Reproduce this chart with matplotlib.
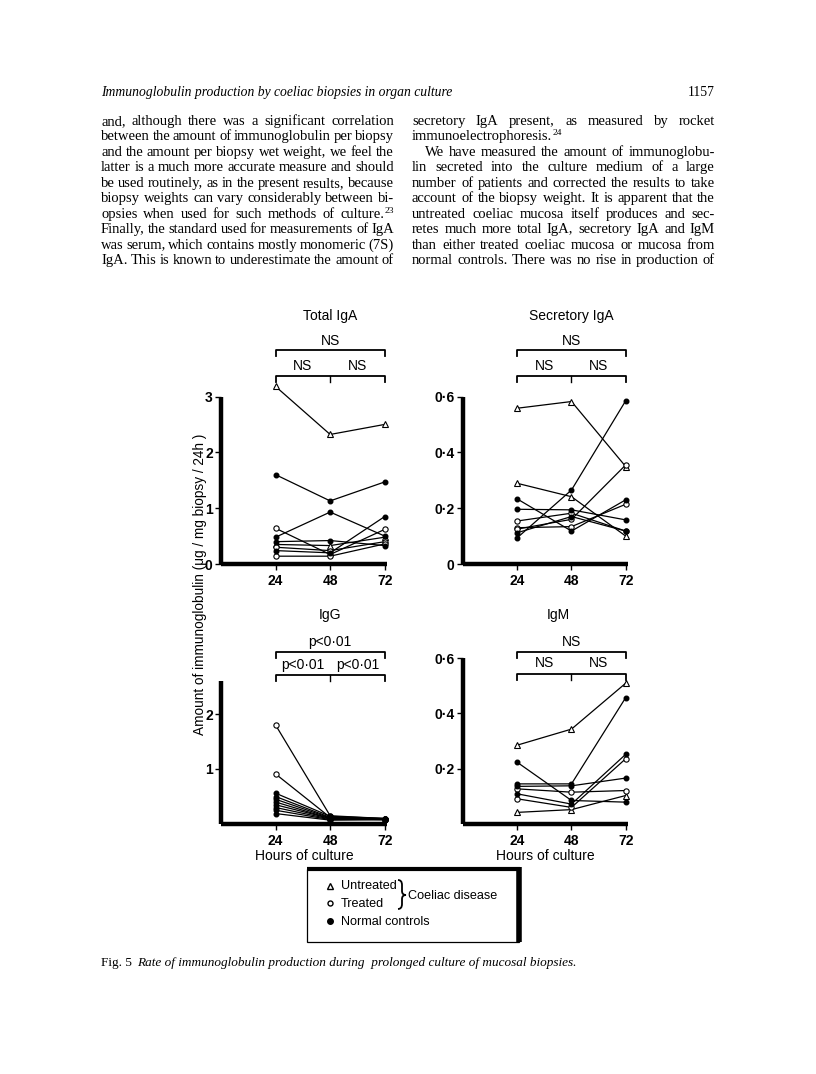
import matplotlib
matplotlib.use('Agg')
import matplotlib.pyplot as plt
from matplotlib import transforms
from matplotlib.patches import Rectangle, PathPatch
from matplotlib.path import Path
from matplotlib.lines import Line2D

hours = [24, 48, 72]
hour_labels = ['24', '48', '72']

# Total IgA (ug/mg biopsy/24h)
tiga_untreated = [[3.18, 2.32, 2.50], [0.35, 0.33, 0.48]]
tiga_treated = [[0.64, 0.17, 0.62], [0.30, 0.24, 0.40], [0.14, 0.14, 0.36]]
tiga_normal = [[1.60, 1.13, 1.47], [0.48, 0.93, 0.50], [0.24, 0.20, 0.85], [0.40, 0.42, 0.33]]

# Secretory IgA
siga_untreated = [[0.558, 0.582, 0.349], [0.289, 0.241, 0.100]]
siga_treated = [[0.154, 0.182, 0.118], [0.130, 0.134, 0.214], [0.125, 0.160, 0.355]]
siga_normal = [[0.094, 0.265, 0.585], [0.233, 0.118, 0.230], [0.196, 0.194, 0.158], [0.112, 0.170, 0.118]]

# IgG
igg_untreated = []
igg_treated = [[1.80, 0.15, 0.10], [0.91, 0.12, 0.10]]
igg_normal = [[0.56, 0.14, 0.10], [0.50, 0.12, 0.09], [0.45, 0.11, 0.09], [0.40, 0.10, 0.09],
              [0.35, 0.10, 0.08], [0.30, 0.09, 0.08], [0.25, 0.08, 0.08], [0.19, 0.07, 0.08]]

# IgM
igm_untreated = [[0.285, 0.343, 0.509], [0.042, 0.052, 0.103]]
igm_treated = [[0.127, 0.115, 0.121], [0.091, 0.060, 0.236]]
igm_normal = [[0.223, 0.085, 0.079], [0.145, 0.145, 0.457], [0.136, 0.138, 0.166], [0.109, 0.072, 0.252]]

left_col = [
    "and, although there was a significant correlation",
    "between the amount of immunoglobulin per biopsy",
    "and the amount per biopsy wet weight, we feel the",
    "latter is a much more accurate measure and should",
    "be used routinely, as in the present results, because",
    "biopsy weights can vary considerably between bi-",
    "opsies when used for such methods of culture.^23",
    "Finally, the standard used for measurements of IgA",
    "was serum, which contains mostly monomeric (7S)",
    "IgA. This is known to underestimate the amount of",
]
right_col = [
    "secretory IgA present, as measured by rocket",
    "immunoelectrophoresis.^24",
    "We have measured the amount of immunoglobu-",
    "lin secreted into the culture medium of a large",
    "number of patients and corrected the results to take",
    "account of the biopsy weight. It is apparent that the",
    "untreated coeliac mucosa itself produces and sec-",
    "retes much more total IgA, secretory IgA and IgM",
    "than either treated coeliac mucosa or mucosa from",
    "normal controls. There was no rise in production of",
]

W, H = 816, 1074
fig = plt.figure(figsize=(W / 100, H / 100), dpi=100)
fig.patch.set_facecolor('white')

page = fig.add_axes([0, 0, 1, 1])
page.set_xlim(0, W)
page.set_ylim(H, 0)
page.axis('off')
renderer = fig.canvas.get_renderer()

SERIF = 'Liberation Serif'
SANS = 'Liberation Sans'

# text block geometry (pixels)
LX0, LX1 = 101, 394
RX0, RX1 = 412, 715
INDENT = 13


def text_w(s, size, style='normal'):
    t = page.text(0, 0, s, fontsize=size, family=SERIF, style=style)
    w = t.get_window_extent(renderer).width
    t.remove()
    return w


def measure(line, size):
    parts = []
    for w in line.split():
        base, sup = (w.split('^') + [''])[:2]
        wb = text_w(base, size)
        ws = text_w(sup, size * 0.65) if sup else 0
        parts.append((base, sup, wb, ws))
    return parts


def fit_size(lines, width, base=10.0, max_size=10.6):
    best = max_size
    for line in lines:
        parts = measure(line, base)
        tot = sum(p[2] + p[3] for p in parts)
        gaps = 2.6 * (len(parts) - 1)
        best = min(best, base * (width - gaps) / tot)
    return best


def put_line(line, x0, x1, y, justify, size):
    parts = measure(line, size)
    if not parts:
        return
    total = sum(p[2] + p[3] for p in parts)
    gap = size * 100 / 72 * 0.25
    if justify and len(parts) > 1:
        gap = (x1 - x0 - total) / (len(parts) - 1)
    x = x0
    for base, sup, wb, ws in parts:
        page.text(x, y, base, fontsize=size, family=SERIF, va='baseline')
        if sup:
            page.text(x + wb, y - 5, sup, fontsize=size * 0.65, family=SERIF, va='baseline')
        x += wb + ws + gap


body_size = min(fit_size(left_col, LX1 - LX0), fit_size(right_col, RX1 - RX0))

# running header
page.text(LX0, 96, "Immunoglobulin production by coeliac biopsies in organ culture",
          fontsize=9.8, family=SERIF, style='italic', va='baseline')
page.text(RX1, 96, "1157", fontsize=9.8, family=SERIF, va='baseline', ha='right')

y0, dy = 125, 15.45
for i, line in enumerate(left_col):
    put_line(line, LX0, LX1, y0 + i * dy, True, body_size)
for i, line in enumerate(right_col):
    if line.startswith("We have"):
        put_line(line, RX0 + INDENT, RX1, y0 + i * dy, True, body_size)
    else:
        put_line(line, RX0, RX1, y0 + i * dy, i != 1, body_size)

# caption
page.text(LX0, 966, "Fig. 5", fontsize=9.5, family=SERIF, va='baseline')
page.text(LX0 + 36, 966, "Rate of immunoglobulin production during  prolonged culture of mucosal biopsies.",
          fontsize=9.5, family=SERIF, style='italic', va='baseline')


def add_panel(box, ymax, yticks, ylabels):
    l, r, t, b = box
    ax = fig.add_axes([l / W, 1 - b / H, (r - l) / W, (b - t) / H])
    ax.set_xlim(0, 73)
    ax.set_ylim(0, ymax)
    ax.patch.set_alpha(0)
    for s in ['top', 'right']:
        ax.spines[s].set_visible(False)
    for s in ['left', 'bottom']:
        ax.spines[s].set_linewidth(3.2)
        ax.spines[s].set_capstyle('butt')
    ax.set_xticks(hours)
    ax.set_xticklabels(hour_labels, fontsize=10, fontweight='bold', family=SANS)
    ax.set_yticks(yticks)
    ax.set_yticklabels(ylabels, fontsize=10, fontweight='bold', family=SANS)
    ax.tick_params(axis='y', length=4, width=1, pad=2)
    ax.tick_params(axis='x', length=4, width=1, pad=3)
    return ax


def draw_series(ax, untreated, treated, normal):
    for v in untreated:
        ax.plot(hours, v, color='black', lw=0.9, marker='^', ms=4.5, mfc='white', mec='black', mew=0.8, clip_on=False)
    for v in treated:
        ax.plot(hours, v, color='black', lw=0.9, marker='o', ms=3.8, mfc='white', mec='black', mew=0.8, clip_on=False)
    for v in normal:
        ax.plot(hours, v, color='black', lw=0.9, marker='o', ms=3.3, mfc='black', mec='black', clip_on=False)


def annotate(ax, box, title, title_x, title_y, up_lab, up_text_y, up_line_y, low_lab, low_text_y, low_line_y):
    l, r, t, b = box
    tr = transforms.blended_transform_factory(ax.transData, ax.transAxes)
    f = lambda py: (b - py) / (b - t)
    tick = 6 / (b - t)
    ax.text(title_x, f(title_y), title, transform=tr, ha='center', va='center', fontsize=10, family=SANS)
    ax.add_line(Line2D([24, 24, 72, 72], [f(up_line_y) - tick, f(up_line_y), f(up_line_y), f(up_line_y) - tick],
                       transform=tr, color='black', lw=1.3, clip_on=False))
    ax.text(48, f(up_text_y), up_lab, transform=tr, ha='center', va='center', fontsize=10, family=SANS)
    ax.add_line(Line2D([24, 24, 72, 72], [f(low_line_y) - tick, f(low_line_y), f(low_line_y), f(low_line_y) - tick],
                       transform=tr, color='black', lw=1.3, clip_on=False))
    ax.add_line(Line2D([48, 48], [f(low_line_y) - tick, f(low_line_y)], transform=tr, color='black', lw=1.0, clip_on=False))
    ax.text(36, f(low_text_y), low_lab, transform=tr, ha='center', va='center', fontsize=10, family=SANS)
    ax.text(60, f(low_text_y), low_lab, transform=tr, ha='center', va='center', fontsize=10, family=SANS)


box1 = (221, 387, 396.5, 564)
box2 = (463, 628, 396.5, 564)
box3 = (221, 387, 681, 824)
box4 = (463, 628, 658, 824)

ax1 = add_panel(box1, 3, [0, 1, 2, 3], ['0', '1', '2', '3'])
draw_series(ax1, tiga_untreated, tiga_treated, tiga_normal)
annotate(ax1, box1, 'Total IgA', 48, 316, 'NS', 341, 350, 'NS', 366, 376)

ax2 = add_panel(box2, 0.6, [0, 0.2, 0.4, 0.6], ['0', '0·2', '0·4', '0·6'])
draw_series(ax2, siga_untreated, siga_treated, siga_normal)
annotate(ax2, box2, 'Secretory IgA', 48, 316, 'NS', 341, 350, 'NS', 366, 376)

ax3 = add_panel(box3, 2.6, [1, 2], ['1', '2'])
draw_series(ax3, igg_untreated, igg_treated, igg_normal)
annotate(ax3, box3, 'IgG', 48, 615, 'p<0·01', 642, 652, 'p<0·01', 665, 675)
ax3.set_xlabel('Hours of culture', fontsize=10, family=SANS, labelpad=1)

ax4 = add_panel(box4, 0.6, [0.2, 0.4, 0.6], ['0·2', '0·4', '0·6'])
draw_series(ax4, igm_untreated, igm_treated, igm_normal)
annotate(ax4, box4, 'IgM', 42, 615, 'NS', 642, 652, 'NS', 663, 674)
ax4.set_xlabel('Hours of culture', fontsize=10, family=SANS, labelpad=1)

page.text(200, 584, 'Amount of immunoglobulin (μg / mg biopsy / 24h )', rotation=90,
          ha='center', va='center', fontsize=9.8, family=SANS)

# legend box
page.add_patch(Rectangle((307, 869), 212, 73, fill=False, lw=0.9, ec='black'))
page.plot([307, 520], [869, 869], color='black', lw=3, solid_capstyle='butt')
page.plot([519, 519], [867, 942], color='black', lw=4, solid_capstyle='butt')
page.plot([330], [886], marker='^', ms=4, mfc='white', mec='black', mew=1)
page.plot([330], [903], marker='o', ms=3.6, mfc='white', mec='black', mew=1)
page.plot([330], [921], marker='o', ms=4, mfc='black', mec='black')
page.text(341, 886, 'Untreated', fontsize=9.1, family=SANS, va='center')
page.text(341, 904, 'Treated', fontsize=9.1, family=SANS, va='center')
page.text(341, 922, 'Normal controls', fontsize=9.1, family=SANS, va='center')
brace = Path([(398, 880), (402, 880), (402, 885), (402, 891), (402, 895), (406, 895),
              (402, 895), (402, 899), (402, 904), (402, 909), (398, 909)],
             [Path.MOVETO, Path.CURVE3, Path.CURVE3, Path.LINETO, Path.CURVE3, Path.CURVE3,
              Path.CURVE3, Path.CURVE3, Path.LINETO, Path.CURVE3, Path.CURVE3])
page.add_patch(PathPatch(brace, fill=False, lw=1.3, ec='black'))
page.text(408, 896, 'Coeliac disease', fontsize=9.1, family=SANS, va='center')

fig.savefig('out.png', dpi=100)
